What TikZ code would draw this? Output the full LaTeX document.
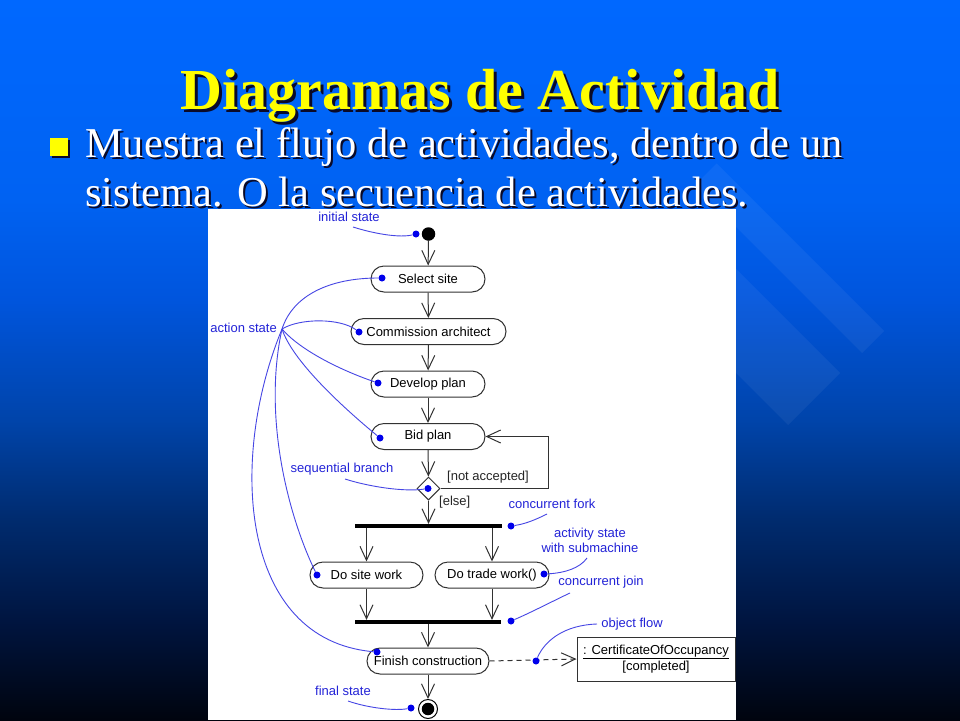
\documentclass[tikz,border=0pt]{standalone}
\usepackage{fontspec}
\setmainfont{Liberation Serif}
\newfontfamily\diagfont{Liberation Sans}
\usetikzlibrary{arrows.meta,shapes.geometric,calc}
\definecolor{annline}{RGB}{70,70,228}
\definecolor{anntext}{RGB}{35,35,215}
\definecolor{dotblue}{RGB}{0,0,235}
\definecolor{boxline}{RGB}{50,50,50}
\definecolor{bgzero}{RGB}{0,4,14}
\definecolor{bgone}{RGB}{0,21,64}
\definecolor{bgtwo}{RGB}{0,43,110}
\definecolor{bgthree}{RGB}{0,68,170}
\definecolor{bgfour}{RGB}{0,85,221}
\definecolor{bgfive}{RGB}{0,98,242}
\definecolor{bgsix}{RGB}{0,104,255}
\definecolor{titleyellow}{RGB}{255,255,0}
\definecolor{shadowcol}{RGB}{10,10,40}
\newcommand{\shadowtext}[2]{\rlap{\hspace*{#1}\raisebox{-#1}{\color{shadowcol}#2}}#2}
\pgfdeclareverticalshading{slidebg}{100bp}{color(0bp)=(bgzero); color(25bp)=(bgzero); color(31.94bp)=(bgone); color(38.9bp)=(bgtwo); color(45.8bp)=(bgthree); color(54.2bp)=(bgfour); color(61.1bp)=(bgfive); color(75bp)=(bgsix); color(100bp)=(bgsix)}
\tikzset{
  actbox/.style={draw=boxline, line width=1pt, rounded corners=13pt, minimum height=26pt, inner sep=0pt, fill=white, font=\diagfont\fontsize{13}{15}\selectfont},
  flowarrow/.style={draw=boxline, line width=1pt, -{Straight Barb[length=14pt,width=13pt]}},
  annotline/.style={draw=annline, line width=0.9pt},
  annotlabel/.style={text=anntext, font=\diagfont\fontsize{13}{15}\selectfont, inner sep=0pt, align=center},
  guardlabel/.style={text=black!85, font=\diagfont\fontsize{13}{15}\selectfont, inner sep=0pt},
  blob/.style={circle, fill=dotblue, inner sep=0pt, minimum size=7pt},
  syncbar/.style={fill=black, inner sep=0pt, minimum height=3.8pt},
}
\begin{document}
\begin{tikzpicture}[x=1pt,y=-1pt]
\useasboundingbox (0,0) rectangle (960,720);
% background
\fill[shading=slidebg] (0,0) rectangle (960,720);
\fill[white, opacity=0.05] (716.5,163.5) -- (884,331) -- (862,353) -- (694.5,185.5) -- cycle;
\fill[white, opacity=0.05] (683.5,216.5) -- (840,373) -- (788,425) -- (631.5,268.5) -- cycle;
% title
\node[anchor=base, inner sep=0pt, text=titleyellow, font=\bfseries\fontsize{58}{60}\selectfont] (title) at (480,109) {\shadowtext{3pt}{Diagramas de Actividad}};
% bullet
\fill[shadowcol] (52,140) rectangle (70,158);
\fill[titleyellow] (50,138) rectangle (68,156);
\node[anchor=base west, inner sep=0pt, text=white, font=\fontsize{42.5}{47}\selectfont] (line1) at (85,157) {\shadowtext{2pt}{Muestra el flujo de actividades, dentro de un}};
\node[anchor=base west, inner sep=0pt, text=white, font=\fontsize{42.5}{47}\selectfont] (line2) at (85,206) {\shadowtext{2pt}{sistema. O la secuencia de actividades.}};
% white panel
\fill[white] (208,209) rectangle (736,720);
% activity nodes
\node[circle, fill=black, inner sep=0pt, minimum size=13.5pt] (init) at (428.5,234) {};
\node[actbox, minimum width=114pt] (select) at (428,279) {Select site};
\node[actbox, minimum width=155pt] (commission) at (428.5,331.5) {Commission architect};
\node[actbox, minimum width=114pt] (develop) at (428,384) {Develop plan};
\node[actbox, minimum width=114pt] (bid) at (428,436.5) {Bid plan};
\node[diamond, draw=boxline, line width=1pt, fill=white, inner sep=0pt, minimum width=23pt, minimum height=23pt] (dec) at (428.5,488.5) {};
\node[syncbar, minimum width=147pt] (fork) at (428.5,526) {};
\node[actbox, minimum width=113pt] (dosite) at (366.5,575) {Do site work};
\node[actbox, minimum width=114pt] (dotrade) at (492,575) {Do trade work()};
\node[syncbar, minimum width=146pt] (join) at (428,622) {};
\node[actbox, minimum width=122pt] (finish) at (428,661) {Finish construction};
\node[circle, draw=black, line width=1pt, inner sep=0pt, minimum size=19pt] (final) at (428,709) {};
\node[circle, fill=black, inner sep=0pt, minimum size=12.5pt] (finalcore) at (428,709) {};
\node[draw=boxline, line width=1pt, fill=white, minimum width=158pt, minimum height=44pt, inner sep=0pt, align=center, font=\diagfont\fontsize{13}{16}\selectfont] (obj) at (656,659) {\underline{: CertificateOfOccupancy}\\\relax [completed]};
% control flow
\draw[flowarrow] (init) -- (select);
\draw[flowarrow] (select) -- (commission);
\draw[flowarrow] (commission) -- (develop);
\draw[flowarrow] (develop) -- (bid);
\draw[flowarrow] (bid) -- (dec);
\draw[flowarrow] (dec.south) -- (fork.north);
\draw[flowarrow] (dec.east) -- ++(108,0) |- (bid.east);
\draw[flowarrow] (fork.south -| dosite.north) -- (dosite.north);
\draw[flowarrow] (fork.south -| dotrade.north) -- (dotrade.north);
\draw[flowarrow] (dosite.south) -- (dosite.south |- join.north);
\draw[flowarrow] (dotrade.south) -- (dotrade.south |- join.north);
\draw[flowarrow] (join.south -| finish.north) -- (finish.north);
\draw[flowarrow] (finish) -- (final);
\draw[flowarrow, dash pattern=on 5pt off 4pt] (finish.east) -- (obj.west);
% guards
\node[guardlabel] (notacc) at (488,477) {[not accepted]};
\node[guardlabel, anchor=west] (elseg) at (439,502) {[else]};
% annotation labels
\node[annotlabel] (linit) at (349,217) {initial state};
\node[annotlabel, anchor=east] (laction) at (277,328) {action state};
\node[annotlabel] (lseq) at (342,469) {sequential branch};
\node[annotlabel] (lfork) at (552,504) {concurrent fork};
\node[annotlabel] (lsub) at (590,540.5) {activity state\\with submachine};
\node[annotlabel] (ljoin) at (601,582) {concurrent join};
\node[annotlabel] (lobj) at (632,624) {object flow};
\node[annotlabel] (lfinal) at (343,691) {final state};
% annotation anchors
\coordinate (ainit) at (353,227);
\coordinate (aact) at (282,329);
\coordinate (aseq) at (345,479);
\coordinate (afork) at (547,514);
\coordinate (asub) at (587,558);
\coordinate (ajoin) at (570,593);
\coordinate (aobj) at (597,624);
\coordinate (afinal) at (348,701);
% dots
\node[blob] (dinit) at (416,234) {};
\node[blob] (dselect) at (382,278) {};
\node[blob] (dcomm) at (359,332) {};
\node[blob] (ddev) at (378,383) {};
\node[blob] (dbid) at (380,438) {};
\node[blob] (dseq) at (428,488.5) {};
\node[blob] (dfork) at (511,526) {};
\node[blob] (dsub) at (544,574) {};
\node[blob] (dsite) at (317,575) {};
\node[blob] (djoin) at (511,621) {};
\node[blob] (dfinish) at (377,652) {};
\node[blob] (dobj) at (536,661) {};
\node[blob] (dfinal) at (411,708) {};
% annotation lines
\draw[annotline] (ainit) .. controls (375,234) and (400,238) .. (dinit);
\draw[annotline] (aact) .. controls (293,295) and (330,278) .. (dselect);
\draw[annotline] (aact) .. controls (300,318) and (340,318) .. (dcomm);
\draw[annotline] (aact) .. controls (300,350) and (340,370) .. (ddev);
\draw[annotline] (aact) .. controls (292,360) and (340,405) .. (dbid);
\draw[annotline] (aact) .. controls (262,420) and (290,520) .. (dsite);
\draw[annotline] (aact) .. controls (228,460) and (240,640) .. (dfinish);
\draw[annotline] (aseq) .. controls (370,487) and (405,492) .. (dseq);
\draw[annotline] (afork) .. controls (535,520) and (525,524) .. (dfork);
\draw[annotline] (asub) .. controls (580,568) and (565,573) .. (dsub);
\draw[annotline] (ajoin) .. controls (555,600) and (530,613) .. (djoin);
\draw[annotline] (aobj) .. controls (565,625) and (545,640) .. (dobj);
\draw[annotline] (afinal) .. controls (368,708) and (395,711) .. (dfinal);
\end{tikzpicture}
\end{document}
